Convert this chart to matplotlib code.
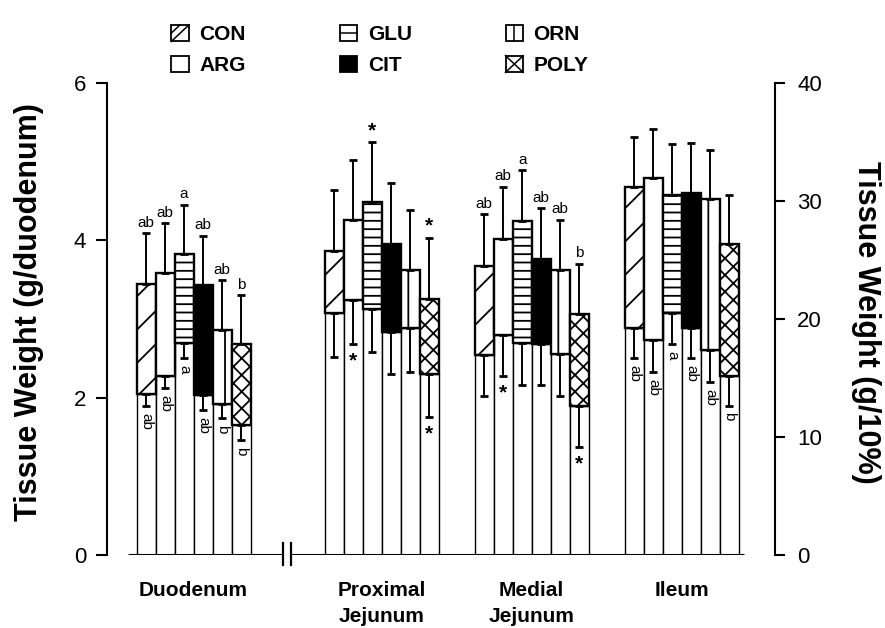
import matplotlib
matplotlib.use('Agg')
import matplotlib.pyplot as plt
from matplotlib.patches import Patch, Rectangle
from matplotlib.lines import Line2D
from matplotlib.legend_handler import HandlerBase
import numpy as np

plt.rcParams['font.family'] = ['Liberation Sans', 'DejaVu Sans']
plt.rcParams['hatch.linewidth'] = 1.3

# ---------------- data ----------------
segments = ['Duodenum', 'Proximal\nJejunum', 'Medial\nJejunum', 'Ileum']
treatments = ['CON', 'ARG', 'GLU', 'CIT', 'ORN', 'POLY']

# upper (total) bar values and SE
duo_top = [3.45, 3.58, 3.82, 3.43, 2.86, 2.68]
duo_top_err = [0.64, 0.64, 0.63, 0.63, 0.63, 0.62]
prox_top = [3.87, 4.26, 4.49, 3.95, 3.62, 3.26]
prox_top_err = [0.77, 0.76, 0.76, 0.78, 0.77, 0.77]
med_top = [3.68, 4.02, 4.24, 3.76, 3.62, 3.06]
med_top_err = [0.65, 0.66, 0.65, 0.65, 0.64, 0.64]
ile_top = [4.68, 4.79, 4.58, 4.60, 4.52, 3.95]
ile_top_err = [0.63, 0.63, 0.64, 0.64, 0.63, 0.62]

# lower (white) bar values and SE
duo_low = [2.05, 2.28, 2.69, 2.03, 1.92, 1.65]
duo_low_err = [0.16, 0.16, 0.19, 0.19, 0.18, 0.19]
prox_low = [3.08, 3.24, 3.13, 2.84, 2.89, 2.30]
prox_low_err = [0.56, 0.56, 0.55, 0.54, 0.56, 0.55]
med_low = [2.54, 2.80, 2.69, 2.68, 2.55, 1.89]
med_low_err = [0.52, 0.53, 0.53, 0.52, 0.53, 0.52]
ile_low = [2.89, 2.73, 3.07, 2.89, 2.61, 2.28]
ile_low_err = [0.39, 0.40, 0.39, 0.39, 0.41, 0.38]

# significance marks
duo_top_marks = ['ab', 'ab', 'a', 'ab', 'ab', 'b']
prox_top_marks = ['', '', '*', '', '', '*']
med_top_marks = ['ab', 'ab', 'a', 'ab', 'ab', 'b']
ile_top_marks = ['', '', '', '', '', '']
duo_low_marks = ['ab', 'ab', 'a', 'ab', 'b', 'b']
prox_low_marks = ['', '*', '', '', '', '*']
med_low_marks = ['', '*', '', '', '', '*']
ile_low_marks = ['ab', 'ab', 'a', 'ab', 'ab', 'b']

left_ticks = [0, 2, 4, 6]
right_ticks = [0, 10, 20, 30, 40]

# ---------------- styling ----------------
tops = [duo_top, prox_top, med_top, ile_top]
top_errs = [duo_top_err, prox_top_err, med_top_err, ile_top_err]
lows = [duo_low, prox_low, med_low, ile_low]
low_errs = [duo_low_err, prox_low_err, med_low_err, ile_low_err]
top_marks = [duo_top_marks, prox_top_marks, med_top_marks, ile_top_marks]
low_marks = [duo_low_marks, prox_low_marks, med_low_marks, ile_low_marks]

hatches = ['/', '', '--', '', '|', 'xx']
faces = ['white', 'white', 'white', 'black', 'white', 'white']


class BoxHandler(HandlerBase):
    """Legend key: a square with a single stroke of the bar's pattern."""
    def create_artists(self, legend, orig_handle, xdescent, ydescent,
                       width, height, fontsize, trans):
        x0, y0 = -xdescent, -ydescent
        x1, y1 = x0 + width, y0 + height
        xm, ym = (x0 + x1) / 2, (y0 + y1) / 2
        h = orig_handle.get_hatch() or ''
        arts = [Rectangle((x0, y0), width, height,
                          facecolor=orig_handle.get_facecolor(),
                          edgecolor='black', lw=1.3, transform=trans)]
        segs = []
        if '/' in h:
            segs += [([x0, x1], [y0, y1]), ([x0, xm], [ym, y1])]
        if '-' in h:
            segs += [([x0, x1], [ym, ym])]
        if '|' in h:
            segs += [([xm, xm], [y0, y1])]
        if 'x' in h:
            segs += [([x0, x1], [y0, y1]), ([x0, x1], [y1, y0])]
        for xs, ys in segs:
            arts.append(Line2D(xs, ys, color='black', lw=1.1, transform=trans))
        return arts


W, H = 885, 628
fig = plt.figure(figsize=(W / 100, H / 100), dpi=100)
ax = fig.add_axes([107 / W, 73 / H, 668 / W, 472 / H])

bw = 1.0
group_pos = [0, 9.9, 17.8, 25.7]
offsets = (np.arange(6) - 2.5) * bw
ax.set_xlim(-4.553, 30.605)
ax.set_ylim(0, 6)

for g, gp in enumerate(group_pos):
    x = gp + offsets
    top = np.array(tops[g])
    low = np.array(lows[g])
    terr = np.array(top_errs[g])
    lerr = np.array(low_errs[g])
    for i in range(6):
        ax.bar(x[i], low[i], width=bw, color='white', edgecolor='black',
               linewidth=1.0, zorder=2)
        ax.bar(x[i], top[i] - low[i], bottom=low[i], width=bw, color=faces[i],
               hatch=hatches[i], edgecolor='black', linewidth=1.7, zorder=2.5)
    ax.errorbar(x, top, yerr=[np.zeros(6), terr], fmt='none', ecolor='black',
                elinewidth=1.4, capsize=3.2, capthick=2.0, zorder=3)
    ax.errorbar(x, low, yerr=[lerr, np.zeros(6)], fmt='none', ecolor='black',
                elinewidth=1.4, capsize=3.2, capthick=2.0, zorder=3)
    for i in range(6):
        m = top_marks[g][i]
        cap = top[i] + terr[i]
        if m == '*':
            ax.annotate(m, (x[i], cap), xytext=(0, 1.5), textcoords='offset points',
                        ha='center', va='bottom', fontsize=15, fontweight='bold')
        elif m:
            ax.annotate(m, (x[i], cap), xytext=(0, 2.5), textcoords='offset points',
                        ha='center', va='bottom', fontsize=11)
        m = low_marks[g][i]
        cap = low[i] - lerr[i]
        if m == '*':
            ax.annotate(m, (x[i], cap), xytext=(0, -5), textcoords='offset points',
                        ha='center', va='top', fontsize=15, fontweight='bold')
        elif m:
            ax.annotate(m, (x[i], cap), xytext=(0, -5), textcoords='offset points',
                        ha='center', va='top', fontsize=11, rotation=-90)

# baseline and axis break
ax.axhline(0, xmin=(128 - 107) / 668, xmax=(744 - 107) / 668, color='black',
           lw=2.2, zorder=4, solid_capstyle='butt')
xb1 = (283 - 193.5) / 19
xb2 = (291 - 193.5) / 19
ax.plot([xb1 + 0.05, xb2 - 0.05], [0, 0], color='white', lw=4, zorder=5,
        clip_on=False, solid_capstyle='butt')
for xb in (xb1, xb2):
    ax.plot([xb, xb], [-0.13, 0.15], color='black', lw=1.6, zorder=6, clip_on=False)

# left axis
for s in ('top', 'right', 'bottom'):
    ax.spines[s].set_visible(False)
ax.spines['left'].set_linewidth(1.5)
ax.set_yticks(left_ticks)
ax.tick_params(axis='y', direction='out', length=8, width=1.5, labelsize=16, pad=7)
ax.set_xticks(group_pos)
ax.set_xticklabels(segments, fontsize=15, fontweight='bold', linespacing=1.45)
ax.tick_params(axis='x', length=0, pad=19)

# right axis
ax2 = ax.twinx()
ax2.set_ylim(0, 40)
ax2.set_yticks(right_ticks)
for s in ('top', 'left', 'bottom'):
    ax2.spines[s].set_visible(False)
ax2.spines['right'].set_linewidth(1.5)
ax2.tick_params(axis='y', direction='out', length=7, width=1.5, labelsize=16, pad=9)

# axis titles
fig.text(29 / W, 1 - 312 / H, 'Tissue Weight (g/duodenum)', rotation=90,
         ha='center', va='center', fontsize=22, fontweight='bold')
fig.text(866 / W, 1 - 322 / H, 'Tissue Weight (g/10%)', rotation=-90,
         ha='center', va='center', fontsize=22, fontweight='bold')

# legend
handles = [Patch(facecolor=faces[i], edgecolor='black', hatch=hatches[i][:1],
                 label=treatments[i]) for i in range(6)]
fig.legend(handles=handles, handler_map={Patch: BoxHandler()}, loc='center',
           bbox_to_anchor=(380 / W, 1 - 50 / H), ncol=3, frameon=False,
           prop={'size': 15, 'weight': 'bold'},
           handlelength=0.85, handleheight=0.85, handletextpad=0.5,
           columnspacing=4.5, labelspacing=0.55)

fig.savefig('out.png', dpi=100)
